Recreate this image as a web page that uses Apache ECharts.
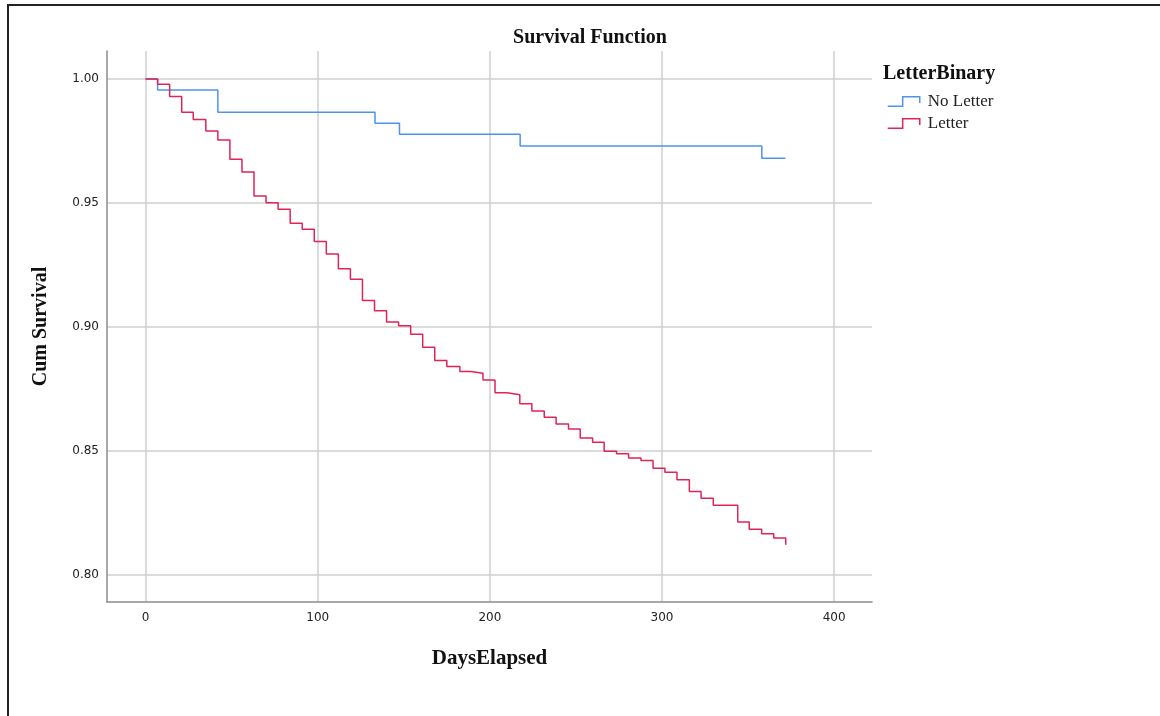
<!DOCTYPE html>
<html>
<head>
<meta charset="utf-8">
<script src="https://cdn.jsdelivr.net/npm/echarts@6.0.0/dist/echarts.min.js"></script>
<style>
  html, body { margin: 0; padding: 0; background: #fff; }
  #wrap { position: relative; width: 1160px; height: 716px; overflow: hidden; }
  #frame { position: absolute; left: 7px; top: 4px; right: -10px; bottom: -10px; border-top: 2px solid #222; border-left: 2px solid #222; }
  #chart { position: absolute; left: 0; top: 0; width: 1160px; height: 716px; }
</style>
</head>
<body>
<div id="wrap">
  <div id="frame"></div>
  <div id="chart"></div>
</div>
<script>
// Kaplan-Meier steps: day of event, survival after it
const noLetterDays = [0, 7, 42, 133.3, 147.5, 217.6, 358, 371.7]
const noLetterSurv = [1.0, 0.9956, 0.9866, 0.9822, 0.9777, 0.973, 0.968, 0.968]

const letterDays = [0, 7, 14, 21, 27.7, 35, 42, 49, 56, 63, 70, 77, 84, 91, 98, 105, 112, 119, 126, 133,
  140, 147, 154, 161, 168, 175, 182.6, 189, 196, 203, 210, 217.4, 224.4, 231.6, 238.5, 245.7, 252.5,
  259.7, 266.4, 273.6, 280.6, 287.8, 294.8, 301.7, 308.7, 315.9, 322.7, 329.8, 344, 350.7, 357.9, 364.9, 371.9]
const letterSurv = [1.0, 0.9979, 0.9929, 0.9866, 0.9837, 0.979, 0.9754, 0.9676, 0.9625, 0.9528, 0.9501, 0.9475,
  0.9418, 0.9394, 0.9344, 0.9294, 0.9234, 0.9192, 0.9106, 0.9065, 0.902, 0.9005, 0.897, 0.8918, 0.8864,
  0.884, 0.882, 0.8813, 0.8786, 0.8734, 0.8726, 0.869, 0.8661, 0.8635, 0.8608, 0.8588, 0.8552, 0.8535,
  0.8498, 0.8488, 0.8471, 0.8461, 0.843, 0.8413, 0.8383, 0.8336, 0.8309, 0.828, 0.8213, 0.8184, 0.8165,
  0.8148, 0.8121]

const xTicks = [0, 100, 200, 300, 400]
const yTicks = [0.80, 0.85, 0.90, 0.95, 1.00]

const zip = (a, b) => a.map((v, i) => [v, b[i]])

const blue = '#4f94e8'
const red = '#df2456'
const serif = '"Liberation Serif", "DejaVu Serif", serif'
const sans = '"DejaVu Sans", "Liberation Sans", sans-serif'
// little step drawn as the legend symbol
const stepIcon = 'path://M0,10 L14,10 L14,1 L30,1 L30,7'

let mychart = echarts.init(document.getElementById('chart'))
mychart.setOption({
  animation: false,
  title: [{
    text: 'Survival Function',
    left: 585,
    top: 23,
    textAlign: 'center',
    textStyle: { fontFamily: serif, fontSize: 20, fontWeight: 'bold', color: '#111' }
  }, {
    text: 'LetterBinary',
    left: 878,
    top: 59,
    textStyle: { fontFamily: serif, fontSize: 20, fontWeight: 'bold', color: '#111' }
  }],
  legend: {
    orient: 'vertical',
    left: 882,
    top: 88,
    itemWidth: 32,
    itemHeight: 12,
    itemGap: 5,
    icon: stepIcon,
    textStyle: { fontFamily: serif, fontSize: 17, color: '#222', padding: [0, 0, 0, 3] },
    data: [
      { name: 'No Letter', itemStyle: { color: 'transparent', borderColor: blue, borderWidth: 1.5 } },
      { name: 'Letter', itemStyle: { color: 'transparent', borderColor: red, borderWidth: 1.5 } }
    ]
  },
  grid: { left: 107, top: 51, right: 288, bottom: 114 },
  xAxis: {
    type: 'value',
    min: -22.4,
    max: 422,
    name: 'DaysElapsed',
    nameLocation: 'middle',
    nameGap: 46,
    nameTextStyle: { fontFamily: serif, fontSize: 21, fontWeight: 'bold', color: '#111' },
    axisLine: { onZero: false, lineStyle: { color: '#8c8c8c', width: 1.5 } },
    axisTick: { show: false, customValues: xTicks },
    axisLabel: { customValues: xTicks, margin: 10, fontFamily: sans, fontSize: 12, color: '#222' },
    splitLine: { show: true, lineStyle: { color: '#cfcfcf', width: 1.5 } }
  },
  yAxis: {
    type: 'value',
    min: 0.789,
    max: 1.0113,
    name: 'Cum Survival',
    nameLocation: 'middle',
    nameGap: 56,
    nameTextStyle: { fontFamily: serif, fontSize: 20, fontWeight: 'bold', color: '#111' },
    axisLine: { show: true, onZero: false, lineStyle: { color: '#8c8c8c', width: 1.5 } },
    axisTick: { show: false, customValues: yTicks },
    axisLabel: {
      customValues: yTicks, margin: 8, fontFamily: sans, fontSize: 12, color: '#222',
      formatter: (v) => v.toFixed(2)
    },
    splitLine: { show: true, lineStyle: { color: '#cfcfcf', width: 1.5 } }
  },
  series: [{
    name: 'No Letter',
    type: 'line',
    step: 'end',
    symbol: 'none',
    color: blue,
    lineStyle: { width: 1.5 },
    data: zip(noLetterDays, noLetterSurv)
  }, {
    name: 'Letter',
    type: 'line',
    step: 'end',
    symbol: 'none',
    color: red,
    lineStyle: { width: 1.5 },
    data: zip(letterDays, letterSurv)
  }]
})
</script>
</body>
</html>
